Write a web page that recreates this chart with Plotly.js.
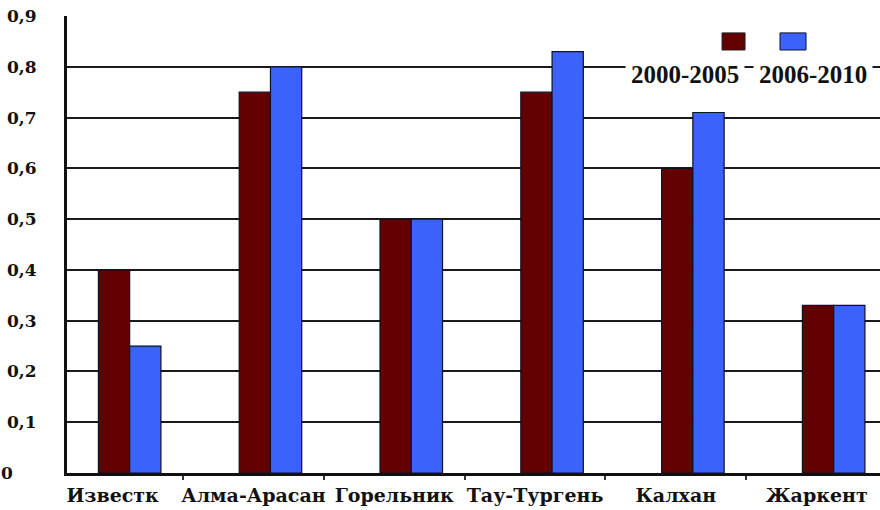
<!DOCTYPE html>
<html>
<head>
<meta charset="utf-8">
<script src="https://cdn.plot.ly/plotly-3.0.1.min.js"></script>
<style>html,body{margin:0;padding:0;background:#fff;}#chart{width:880px;height:510px;}</style>
</head>
<body>
<div id="chart"></div>
<script>
const categories = ['Известк', 'Алма-Арасан', 'Горельник', 'Тау-Тургень', 'Калхан', 'Жаркент'];
const seriesNames = ['2000-2005', '2006-2010'];
const values2000_2005 = [0.40, 0.75, 0.50, 0.75, 0.60, 0.33];
const values2006_2010 = [0.25, 0.80, 0.50, 0.83, 0.71, 0.33];
const yTickVals = [0, 0.1, 0.2, 0.3, 0.4, 0.5, 0.6, 0.7, 0.8, 0.9];
const yTickText = ['0\u00a0\u00a0\u00a0\u00a0', '0,1', '0,2', '0,3', '0,4', '0,5', '0,6', '0,7', '0,8', '0,9'];
const colors = ['#620000', '#3b63fb'];

const serif = 'Liberation Serif';
const tickSerif = 'DejaVu Serif';
const barOffsets = [-0.101, 0.121];
const traces = [values2000_2005, values2006_2010].map((v, i) => ({
  type: 'bar', x: categories, y: v, name: seriesNames[i],
  width: 0.222, offset: barOffsets[i],
  marker: {color: colors[i], line: {color: '#10102a', width: 1.2}},
  hoverinfo: 'x+y'
}));

const layout = {
  width: 880, height: 510,
  margin: {l: 67, r: 0, t: 16, b: 37},
  paper_bgcolor: '#fff', plot_bgcolor: '#fff',
  font: {family: serif, color: '#111'},
  showlegend: false,
  barmode: 'overlay',
  xaxis: {
    type: 'category', range: [-0.324, 5.45],
    showline: true, linecolor: '#111', linewidth: 3,
    showgrid: false, ticks: 'outside', tickson: 'boundaries', ticklen: 4, tickwidth: 2, tickcolor: '#333',
    ticklabelstandoff: 3, tickangle: 0, automargin: false,
    tickfont: {family: tickSerif, size: 19, color: '#111', weight: 'bold'}
  },
  yaxis: {
    range: [0, 0.9], tickvals: yTickVals, ticktext: yTickText,
    showline: true, linecolor: '#111', linewidth: 3,
    showgrid: true, gridcolor: '#1a1a1a', gridwidth: 2,
    zeroline: false, ticks: '', ticklabelstandoff: 24,
    tickfont: {family: tickSerif, size: 17, color: '#111', weight: 'bold'}
  },
  shapes: [
    {type: 'rect', xref: 'paper', yref: 'paper', x0: 0.8057, x1: 0.834, y0: 0.9256, y1: 0.963,
     fillcolor: colors[0], line: {color: '#222', width: 1}},
    {type: 'rect', xref: 'paper', yref: 'paper', x0: 0.877, x1: 0.909, y0: 0.9256, y1: 0.963,
     fillcolor: colors[1], line: {color: '#10102a', width: 1}}
  ],
  annotations: [
    {xref: 'paper', yref: 'paper', x: 0.760, y: 0.871, xanchor: 'center', yanchor: 'middle',
     text: seriesNames[0], showarrow: false, bgcolor: '#fff', borderpad: 5,
     font: {family: serif, size: 25, color: '#111', weight: 700}},
    {xref: 'paper', yref: 'paper', x: 0.918, y: 0.871, xanchor: 'center', yanchor: 'middle',
     text: seriesNames[1], showarrow: false, bgcolor: '#fff', borderpad: 5,
     font: {family: serif, size: 25, color: '#111', weight: 700}}
  ]
};

Plotly.newPlot('chart', traces, layout, {displayModeBar: false, staticPlot: true});
</script>
</body>
</html>
